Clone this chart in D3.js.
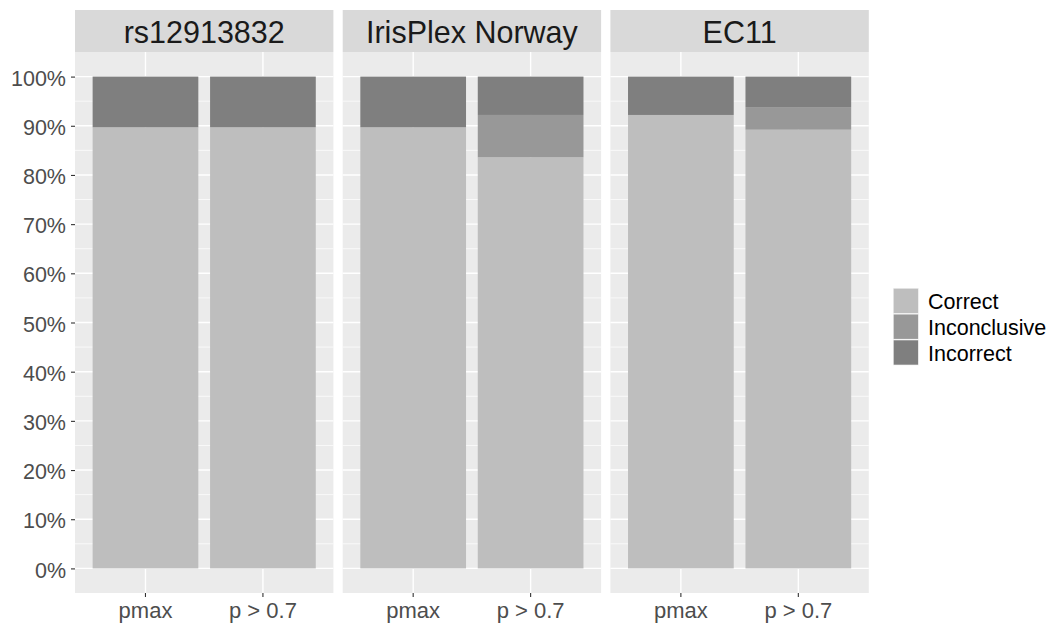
<!DOCTYPE html>
<html><head><meta charset="utf-8">
<script src="https://cdn.jsdelivr.net/npm/d3@7"></script>
<style>
html,body{margin:0;padding:0;background:#fff;}
svg{display:block;font-family:"Liberation Sans",Arial,sans-serif;}
</style></head>
<body><svg id="chart" width="1049" height="625"></svg>
<script>
// ---- data ----
const panels = ["rs12913832", "IrisPlex Norway", "EC11"];
const methods = ["pmax", "p > 0.7"];
const outcomes = ["Correct", "Inconclusive", "Incorrect"];
// values per panel (rows) and method (columns)
const correctVals      = [[0.897, 0.897], [0.897, 0.836], [0.922, 0.892]];
const inconclusiveVals = [[0.000, 0.000], [0.000, 0.086], [0.000, 0.046]];
const incorrectVals    = [[0.103, 0.103], [0.103, 0.078], [0.078, 0.062]];
const fillColors = ["#BEBEBE", "#989898", "#7F7F7F"];
const yTicks = [0, 0.1, 0.2, 0.3, 0.4, 0.5, 0.6, 0.7, 0.8, 0.9, 1.0];

// ---- layout ----
const svg = d3.select("#chart");
const panelLeft = 75, panelW = 258.4, panelGap = 9.3;
const plotTop = 52, plotBottom = 593, stripTop = 10;

const y = d3.scaleLinear().domain([-0.05, 1.05]).range([plotBottom, plotTop]);
const color = d3.scaleOrdinal().domain(outcomes).range(fillColors);
const pct = d3.format(".0%");

const seriesVals = [correctVals, inconclusiveVals, incorrectVals];

panels.forEach((p, pi) => {
  const x0 = panelLeft + pi * (panelW + panelGap);
  const x = d3.scaleBand().domain(methods).range([x0, x0 + panelW]).paddingInner(0.1).paddingOuter(0.15);
  const g = svg.append("g");
  g.append("rect").attr("x", x0).attr("y", plotTop).attr("width", panelW).attr("height", plotBottom - plotTop).attr("fill", "#EBEBEB");
  const minor = d3.range(0.05, 1.0, 0.1);
  g.selectAll(".minor").data(minor).join("line")
    .attr("x1", x0).attr("x2", x0 + panelW).attr("y1", d => y(d)).attr("y2", d => y(d))
    .attr("stroke", "#fff").attr("stroke-width", 0.7);
  g.selectAll(".major").data(yTicks).join("line")
    .attr("x1", x0).attr("x2", x0 + panelW).attr("y1", d => y(d)).attr("y2", d => y(d))
    .attr("stroke", "#fff").attr("stroke-width", 1.4);
  g.selectAll(".vmajor").data(methods).join("line")
    .attr("x1", d => x(d) + x.bandwidth() / 2).attr("x2", d => x(d) + x.bandwidth() / 2)
    .attr("y1", plotTop).attr("y2", plotBottom)
    .attr("stroke", "#fff").attr("stroke-width", 1.4);
  const rows = methods.map((m, mi) => {
    const r = { method: m };
    outcomes.forEach((o, oi) => r[o] = seriesVals[oi][pi][mi]);
    return r;
  });
  const stack = d3.stack().keys(outcomes)(rows);
  stack.forEach(layer => {
    g.append("g").selectAll("rect").data(layer).join("rect")
      .attr("x", d => x(d.data.method))
      .attr("width", x.bandwidth())
      .attr("y", d => y(d[1]))
      .attr("height", d => Math.max(0, y(d[0]) - y(d[1])))
      .attr("fill", color(layer.key));
  });
  g.append("rect").attr("x", x0).attr("y", stripTop).attr("width", panelW).attr("height", plotTop - stripTop).attr("fill", "#D9D9D9");
  g.append("text").attr("x", x0 + panelW / 2).attr("y", (stripTop + plotTop) / 2 + 1)
    .attr("text-anchor", "middle").attr("dominant-baseline", "central")
    .attr("font-size", 30.5).attr("fill", "#1A1A1A").text(p);
  const xa = g.append("g").attr("transform", `translate(0,${plotBottom})`)
    .call(d3.axisBottom(x).tickSize(4).tickPadding(5));
  xa.select(".domain").remove();
  xa.selectAll(".tick line").attr("stroke", "#333").attr("stroke-width", 1.1);
  xa.selectAll(".tick text").attr("font-size", 22).attr("fill", "#4D4D4D")
    .attr("font-family", "Liberation Sans, Arial, sans-serif");
  if (pi === 0) {
    const ya = g.append("g").attr("transform", `translate(${x0},0)`)
      .call(d3.axisLeft(y).tickValues(yTicks).tickFormat(pct).tickSize(4).tickPadding(5));
    ya.select(".domain").remove();
    ya.selectAll(".tick line").attr("stroke", "#333").attr("stroke-width", 1.1);
    ya.selectAll(".tick text").attr("font-size", 21.5).attr("fill", "#4D4D4D")
      .attr("font-family", "Liberation Sans, Arial, sans-serif").attr("dy", "0.4em");
  }
});

const lg = svg.append("g").attr("transform", "translate(893,288)");
outcomes.forEach((o, i) => {
  lg.append("rect").attr("x", 0).attr("y", i * 25.8).attr("width", 25.8).attr("height", 25.8).attr("fill", "#F2F2F2");
  lg.append("rect").attr("x", 0.7).attr("y", i * 25.8 + 0.7).attr("width", 24.4).attr("height", 24.4).attr("fill", color(o));
  lg.append("text").attr("x", 35).attr("y", i * 25.8 + 14).attr("dominant-baseline", "central")
    .attr("font-size", 21.5).attr("fill", "#000").text(o);
});
</script>
</body></html>
